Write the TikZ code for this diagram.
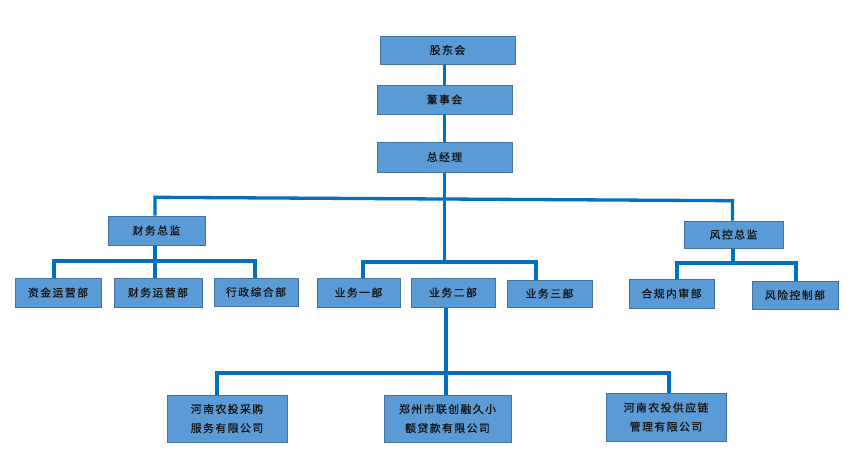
\documentclass[tikz,border=0pt]{standalone}
\usepackage{fontspec}
\setmainfont[LetterSpace=14,FakeBold=0.9]{Noto Sans CJK SC}
\usetikzlibrary{backgrounds}
\definecolor{boxfill}{HTML}{5B9BD5}
\definecolor{boxline}{HTML}{41719C}
\definecolor{conn}{HTML}{0070C0}
\definecolor{txt}{HTML}{141414}
\tikzset{
  orgbox/.style={draw=boxline, fill=boxfill, line width=0.9pt, inner sep=0pt,
    text=txt, font=\fontsize{10.8}{19}\selectfont, align=center},
  link/.style={draw=conn, line width=3.3pt}
}
\begin{document}
\begin{tikzpicture}[x=1pt,y=-1pt]
\useasboundingbox (0,0) rectangle (855,475);
% nodes
\node[orgbox, minimum width=135pt, minimum height=28pt] (gd) at (447.5,50) {股东会};
\node[orgbox, minimum width=135pt, minimum height=29pt] (dsh) at (444.5,99.5) {董事会};
\node[orgbox, minimum width=135pt, minimum height=30pt] (zjl) at (444.5,157) {总经理};
\node[orgbox, minimum width=97pt, minimum height=29pt] (cwzj) at (156.5,230.5) {财务总监};
\node[orgbox, minimum width=99pt, minimum height=27pt] (fkzj) at (733.5,234.5) {风控总监};
\node[orgbox, minimum width=86pt, minimum height=29pt] (zj) at (58,292.5) {资金运营部};
\node[orgbox, minimum width=88pt, minimum height=29pt] (cw) at (158,292.5) {财务运营部};
\node[orgbox, minimum width=84pt, minimum height=28pt] (xz) at (256,292) {行政综合部};
\node[orgbox, minimum width=83pt, minimum height=29pt] (yw1) at (358.5,292.5) {业务一部};
\node[orgbox, minimum width=84pt, minimum height=29pt] (yw2) at (453,292.5) {业务二部};
\node[orgbox, minimum width=85pt, minimum height=27pt] (yw3) at (549.5,293.5) {业务三部};
\node[orgbox, minimum width=85pt, minimum height=29pt] (hg) at (671.5,293.5) {合规内审部};
\node[orgbox, minimum width=86pt, minimum height=28pt] (fx) at (795,295) {风险控制部};
\node[orgbox, minimum width=120pt, minimum height=47pt] (c1) at (227,418.5) {河南农投采购\\服务有限公司};
\node[orgbox, minimum width=127pt, minimum height=47pt] (c2) at (447.5,418.5) {郑州市联创融久小\\额贷款有限公司};
\node[orgbox, minimum width=120pt, minimum height=48pt] (c3) at (666,417) {河南农投供应链\\管理有限公司};
% junction coordinates
\coordinate (tl) at (155,197.3);
\coordinate (tr) at (732.5,200.7);
\coordinate (mm) at (444.5,262);
\coordinate (ml) at (363,262);
\coordinate (mr) at (536,262);
\coordinate (fl) at (54,261);
\coordinate (fm) at (155,261);
\coordinate (fr) at (255,261);
\coordinate (kl) at (677,263);
\coordinate (km) at (733,263);
\coordinate (kr) at (796,263);
\coordinate (bl) at (217,373);
\coordinate (bm) at (446,373);
\coordinate (br) at (669,373);
\begin{scope}[on background layer]
\draw[link] (dsh.north |- gd.south) -- (dsh.north);
\draw[link] (zjl.north |- dsh.south) -- (zjl.north);
\draw[link] (zjl.south) -- (mm);
\draw[link] (tl |- cwzj.north) -- (tl) -- (tr) -- (tr |- fkzj.north);
\draw[link] (ml |- yw1.north) -- (ml) -- (mr) -- (mr |- yw3.north);
\draw[link] (cwzj.south -| fm) -- (fm) -- (fm |- cw.north);
\draw[link] (fl |- zj.north) -- (fl) -- (fr) -- (fr |- xz.north);
\draw[link] (fkzj.south -| km) -- (km);
\draw[link] (kl |- hg.north) -- (kl) -- (kr) -- (kr |- fx.north);
\draw[link] (yw2.south -| bm) -- (bm) -- (bm |- c2.north);
\draw[link] (bl |- c1.north) -- (bl) -- (br) -- (br |- c3.north);
\end{scope}
\end{tikzpicture}
\end{document}
